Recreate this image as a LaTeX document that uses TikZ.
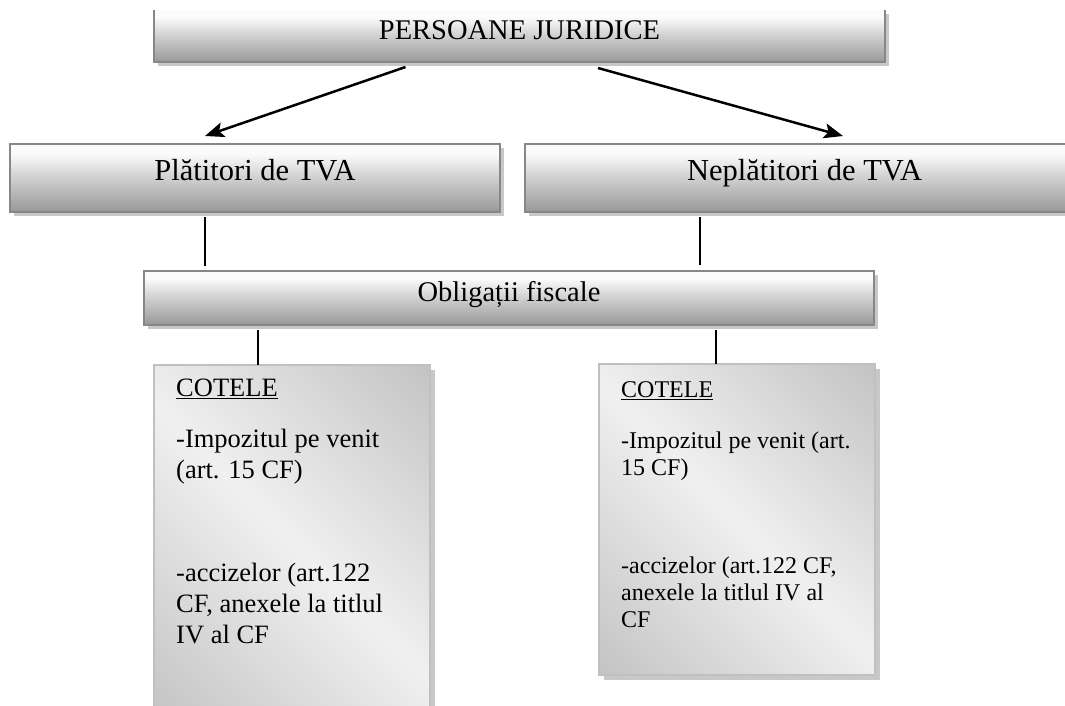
\documentclass[tikz,border=0pt]{standalone}
\usepackage{fontspec}
\setmainfont{Liberation Serif}
\usetikzlibrary{arrows.meta,calc,shadows}
\definecolor{bardark}{HTML}{989898}
\definecolor{barmid}{HTML}{CFCFCF}
\definecolor{barlight}{HTML}{FBFBFB}
\definecolor{bordergray}{HTML}{878787}
\definecolor{shadowgray}{HTML}{C8C8C8}
\definecolor{cotdark}{HTML}{C4C4C4}
\definecolor{cotlight}{HTML}{F0F0F0}
\definecolor{cotborder}{HTML}{C0C0C0}
\pgfdeclareverticalshading{barshade}{100bp}{color(0bp)=(bardark); color(25bp)=(bardark); color(50bp)=(barmid); color(68bp)=(barlight); color(100bp)=(barlight)}
\pgfdeclarehorizontalshading{cotshade}{100bp}{color(0bp)=(cotdark); color(15bp)=(cotdark); color(50bp)=(cotlight); color(85bp)=(cotdark); color(100bp)=(cotdark)}
\tikzset{
  barfill/.style={shading=barshade, inner sep=0pt, outer sep=0pt,
    general shadow={fill=shadowgray, shadow xshift=4pt, shadow yshift=-4pt},
    font=\fontsize{28.5}{34}\selectfont},
  bar/.style={barfill, draw=bordergray, line width=2.5pt},
  bigtext/.style={font=\fontsize{30.5}{36}\selectfont, text height=0.7em, text depth=0.175em},
  bordline/.style={draw=bordergray, line width=2.5pt},
  cotbox/.style={shading=cotshade, shading angle=45, draw=cotborder, line width=1.5pt,
    general shadow={fill=shadowgray, shadow xshift=5pt, shadow yshift=-5pt},
    inner sep=0pt, outer sep=0pt, minimum width=276pt},
  cottextL/.style={anchor=north west, inner sep=0pt, align=left, font=\fontsize{26.5}{31}\selectfont},
  cottextR/.style={anchor=north west, inner sep=0pt, align=left, font=\fontsize{24}{27}\selectfont},
  arrowline/.style={line width=2.5pt, -{Stealth[length=19pt,width=15pt,inset=4pt]}},
  link/.style={line width=1.3pt}
}
\begin{document}
\begin{tikzpicture}[x=1pt,y=-1pt]
\useasboundingbox (0,0) rectangle (1065,705);
% top box (no visible top border)
\node[barfill, minimum width=731pt, minimum height=52pt, text height=0.68em, text depth=0pt] (top) at (519.5,36) {PERSOANE JURIDICE};
\draw[bordline] (top.north west) -- (top.south west) -- (top.south east) -- (top.north east);
% second row
\node[bar, bigtext, minimum width=490pt, minimum height=68pt] (plat) at (255,178) {Plătitori de TVA};
\node[bar, bigtext, minimum width=559pt, minimum height=68pt] (neplat) at (804.5,178) {Neplătitori de TVA};
% third row
\node[bar, minimum width=730pt, minimum height=54pt, text height=0.77em, text depth=0pt] (oblig) at (509,298) {Obligații fiscale};
% cotele boxes
\node[cotbox, minimum height=355pt] (cotL) at (292,542.5) {};
\node[cotbox, minimum height=311pt] (cotR) at (737,519.5) {};
\node[cottextL] (tL) at (176,379) {\underline{COTELE}\\[20pt]-Impozitul pe venit\\(art. 15 CF)\\[72pt]-accizelor (art.122\\CF, anexele la titlul\\IV al CF};
\node[cottextR] (tR) at (621,381) {\underline{COTELE}\\[24pt]-Impozitul pe venit (art.\\15 CF)\\[71pt]-accizelor (art.122 CF,\\anexele la titlul IV al\\CF};
% arrows
\draw[arrowline] ($(top.south west)+(251.5,5)$) -- ($(plat.north west)+(195,-8)$);
\draw[arrowline] ($(top.south west)+(444,6)$) -- ($(neplat.north west)+(318,-8)$);
% links
\draw[link] ($(plat.south west)+(195,5)$) -- ($(oblig.north west)+(61,-5)$);
\draw[link] ($(neplat.south west)+(175,5)$) -- ($(oblig.north west)+(556,-6)$);
\draw[link] ($(oblig.south west)+(114,5)$) -- ($(cotL.north west)+(104,0)$);
\draw[link] ($(oblig.south west)+(572,5)$) -- ($(cotR.north west)+(117,0)$);
\end{tikzpicture}
\end{document}
